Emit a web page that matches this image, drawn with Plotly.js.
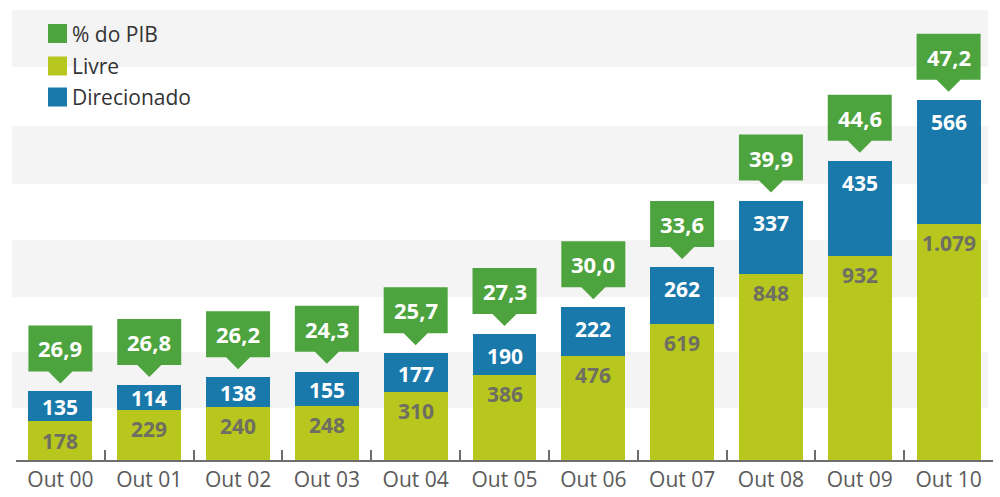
<!DOCTYPE html>
<html>
<head>
<meta charset="utf-8">
<script src="https://cdn.plot.ly/plotly-3.0.1.min.js"></script>
<style>html,body{margin:0;padding:0;background:#fff;}#chart{width:1000px;height:497px;}</style>
</head>
<body>
<div id="chart"></div>
<script>
const categories = ["Out 00","Out 01","Out 02","Out 03","Out 04","Out 05","Out 06","Out 07","Out 08","Out 09","Out 10"];
const livre = [178,229,240,248,310,386,476,619,848,932,1079];
const direcionado = [135,114,138,155,177,190,222,262,337,435,566];
const pib = [26.9,26.8,26.2,24.3,25.7,27.3,30.0,33.6,39.9,44.6,47.2];
const legendLabels = ["% do PIB","Livre","Direcionado"];

const cGreen = "#4da33e", cLivre = "#b7c71d", cBlue = "#1a79ab";

function fmtInt(v){ return String(v).replace(/\B(?=(\d{3})+(?!\d))/g, "."); }
function fmtDec(v){ return v.toFixed(1).replace(".", ","); }

const W = 1000, H = 497, mL = 16, mR = 7, mT = 5, mB = 37;
const pw = W - mL - mR, ph = H - mT - mB;
const yMax = 2078;
const pxPerUnit = ph / yMax;
const px = x => (x - mL) / pw;
const py = y => (H - mB - y) / ph;

const traces = [
  {type:"bar", x:categories, y:livre, name:legendLabels[1], marker:{color:cLivre}, width:0.72, hoverinfo:"none", showlegend:false},
  {type:"bar", x:categories, y:direcionado, name:legendLabels[2], marker:{color:cBlue}, width:0.72, hoverinfo:"none", showlegend:false}
];

const shapes = [];
const annotations = [];

// background bands
[[237,493],[744,1005],[1260,1525],[1795,2055]].forEach(b => {
  shapes.push({type:"rect", xref:"paper", yref:"y", x0:px(12), x1:px(988), y0:b[0], y1:b[1],
    fillcolor:"#f4f4f4", line:{width:0}, layer:"below"});
});

categories.forEach((c, i) => {
  const total = livre[i] + direcionado[i];
  // callout
  shapes.push({type:"path", xref:"x", yref:"y", xsizemode:"pixel", ysizemode:"pixel",
    xanchor:i, yanchor:total,
    path:"M -32,20 L -12,20 L 0,8 L 12,20 L 32,20 L 32,66 L -32,66 Z",
    fillcolor:cGreen, line:{width:0}});
  annotations.push({x:c, y:total, xref:"x", yref:"y", yanchor:"middle", yshift:43, showarrow:false,
    text:"<b>"+fmtDec(pib[i])+"</b>", font:{family:"Open Sans", size:22, color:"#ffffff"}});
  const segB = direcionado[i] * pxPerUnit;
  const shiftB = segB < 44 ? -segB / 2 - 1 : -22;
  annotations.push({x:c, y:total, xref:"x", yref:"y", yanchor:"middle", yshift:shiftB, showarrow:false,
    text:"<b>"+fmtInt(direcionado[i])+"</b>", font:{family:"Open Sans", size:21, color:"#ffffff"}});
  const segL = livre[i] * pxPerUnit;
  const shiftL = segL < 40 ? -segL / 2 : -19;
  annotations.push({x:c, y:livre[i], xref:"x", yref:"y", yanchor:"middle", yshift:shiftL, showarrow:false,
    text:"<b>"+fmtInt(livre[i])+"</b>", font:{family:"Open Sans", size:21, color:"#6e6e62"}});
});

// legend
const legColors = [cGreen, cLivre, cBlue];
const legY = [33.5, 66, 97];
legendLabels.forEach((t, k) => {
  shapes.push({type:"rect", xref:"paper", yref:"paper", x0:px(48), x1:px(67), y0:py(legY[k]+9.5), y1:py(legY[k]-9.5),
    fillcolor:legColors[k], line:{width:0}});
  annotations.push({xref:"paper", yref:"paper", x:px(70), y:py(legY[k]), xanchor:"left", yanchor:"middle", showarrow:false,
    text:t, font:{family:"Open Sans", size:21, color:"#333333"}});
});

const layout = {
  width:W, height:H,
  margin:{l:mL, r:mR, t:mT, b:mB, pad:0},
  paper_bgcolor:"#ffffff", plot_bgcolor:"rgba(0,0,0,0)",
  barmode:"stack",
  showlegend:false,
  xaxis:{type:"category", showgrid:false, zeroline:false, showline:true, linecolor:"#6e6e6e", linewidth:2,
    ticks:"inside", tickson:"boundaries", ticklen:10, tickwidth:2, tickcolor:"#6e6e6e",
    tickfont:{family:"Open Sans", size:21, color:"#5a5a5a"}, range:[-0.5, 10.5], fixedrange:true},
  yaxis:{range:[0, yMax], showgrid:false, zeroline:false, showline:false, showticklabels:false, ticks:"", fixedrange:true},
  shapes:shapes,
  annotations:annotations
};

Plotly.newPlot("chart", traces, layout, {displayModeBar:false, staticPlot:true});
</script>
</body>
</html>
